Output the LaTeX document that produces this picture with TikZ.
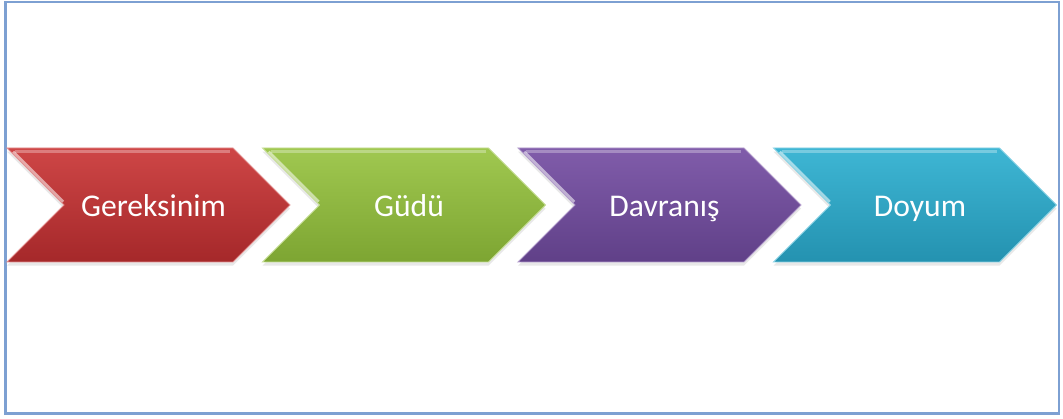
\documentclass[tikz,border=0pt]{standalone}
\usepackage{fontspec}
\newfontfamily\stagefont{Carlito}
\usetikzlibrary{calc,shapes.symbols,shadows}

\definecolor{frameblue}{RGB}{125,160,210}
\definecolor{redtop}{RGB}{206,70,70}
\definecolor{redbot}{RGB}{165,40,42}
\definecolor{greentop}{RGB}{160,200,80}
\definecolor{greenbot}{RGB}{125,165,50}
\definecolor{purpletop}{RGB}{128,92,170}
\definecolor{purplebot}{RGB}{96,64,136}
\definecolor{cyantop}{RGB}{62,182,212}
\definecolor{cyanbot}{RGB}{36,146,176}

\tikzset{
  stagebox/.style={signal, signal to=east, signal from=west, signal pointer angle=90,
    minimum width=7.075cm, minimum height=2.85cm, inner sep=0pt,
    text=white, font=\stagefont\fontsize{22.5}{26}\selectfont,
    text height=16pt, text depth=0pt, execute at begin node={\hspace*{0.25cm}},
    top color=#1top, bottom color=#1bot, draw=#1top!60!white, line width=0.6pt,
    drop shadow={opacity=0.18, shadow xshift=0pt, shadow yshift=-2.5pt},
    path picture={
      \draw[white, opacity=0.55, line width=2.5pt]
        ($(path picture bounding box.north west)+(0.15,-0.1)$) -- ++(1.25cm,-1.25cm);
      \draw[white, opacity=0.3, line width=2pt]
        ($(path picture bounding box.north west)+(0.2,-0.08)$) -- ($(path picture bounding box.north east)+(-1.5,-0.08)$);
    }},
  frameline/.style={draw=frameblue, line width=1.6pt}
}

\begin{document}
\begin{tikzpicture}
		\useasboundingbox (0,0) rectangle (26.575,10.475);
		
		% outer frame
		\draw[frameline] (0.1375,0.1375) rectangle (26.475,10.425);
		
		% stages
		\foreach \name/\word/\col [count=\i] in {need/Gereksinim/red, drive/Güdü/green, act/Davranış/purple, done/Doyum/cyan}
			\node[stagebox=\col] (\name) at ({3.7125+(\i-1)*6.3875}, 5.35) {\word};
		
\end{tikzpicture}
\end{document}
